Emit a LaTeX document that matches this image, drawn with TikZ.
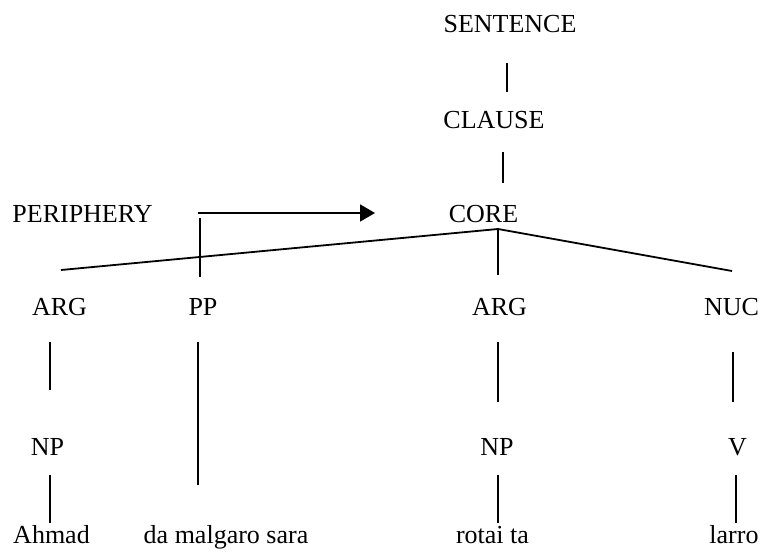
\documentclass[tikz,border=0pt]{standalone}
\usepackage{fontspec}
\setmainfont{Liberation Serif}
\usetikzlibrary{calc,arrows.meta}
\begin{document}
\begin{tikzpicture}[x=1pt,y=-1pt, lbl/.style={inner sep=0pt,anchor=base,font=\fontsize{26}{30}\selectfont}, branch/.style={line width=1.8pt}]
\useasboundingbox (0,0) rectangle (762,551);

\node[lbl] (sent) at (510,33) {SENTENCE};
\node[lbl] (clause) at (494,128) {CLAUSE};
\node[lbl] (peri) at (82.5,222) {PERIPHERY};
\node[lbl] (core) at (483.5,222) {CORE};

\node[lbl] (arga) at (59.5,315) {ARG};
\node[lbl] (pp) at (203,315) {PP};
\node[lbl] (argb) at (499.5,315) {ARG};
\node[lbl] (nuc) at (731.5,315) {NUC};

\node[lbl] (npa) at (47.5,455) {NP};
\node[lbl] (npb) at (497,455) {NP};
\node[lbl] (verb) at (737.5,455) {V};

\node[lbl] (ahmad) at (51.5,543) {Ahmad};
\node[lbl] (sara) at (226,543) {da malgaro sara};
\node[lbl] (rotai) at (492.5,543) {rotai ta};
\node[lbl] (larro) at (734,543) {larro};

\coordinate (hub) at ($(core.base)+(14.5,7)$);
\coordinate (pstart) at ($(peri.base)+(115.5,-9)$);

\draw[branch] ($(sent.base)+(-3,30)$) -- ($(clause.base)+(13,-36)$);
\draw[branch] ($(clause.base)+(9,24)$) -- ($(core.base)+(19.5,-39)$);

\draw[branch,-{Triangle[length=15pt,width=17pt]}] (pstart) -- ($(core.base)+(-108.5,-9)$);
\draw[branch] ($(pstart)+(2,5)$) -- ($(pp.base)+(-3,-38)$);

\draw[branch] (hub) -- ($(arga.base)+(1.5,-45)$);
\draw[branch] (hub) -- ($(argb.base)+(-1.5,-40)$);
\draw[branch] (hub) -- ($(nuc.base)+(0.5,-44)$);

\draw[branch] ($(arga.base)+(-9.5,27)$) -- ($(npa.base)+(2.5,-65)$);
\draw[branch] ($(npa.base)+(2.5,20)$) -- ($(ahmad.base)+(-1.5,-20)$);
\draw[branch] ($(pp.base)+(-5,27)$) -- ($(sara.base)+(-28,-58)$);
\draw[branch] ($(argb.base)+(-1.5,27)$) -- ($(npb.base)+(1,-53)$);
\draw[branch] ($(npb.base)+(1,20)$) -- ($(rotai.base)+(5.5,-20)$);
\draw[branch] ($(nuc.base)+(1.5,37)$) -- ($(verb.base)+(-4.5,-53)$);
\draw[branch] ($(verb.base)+(-1.5,20)$) -- ($(larro.base)+(2,-20)$);
\end{tikzpicture}
\end{document}
